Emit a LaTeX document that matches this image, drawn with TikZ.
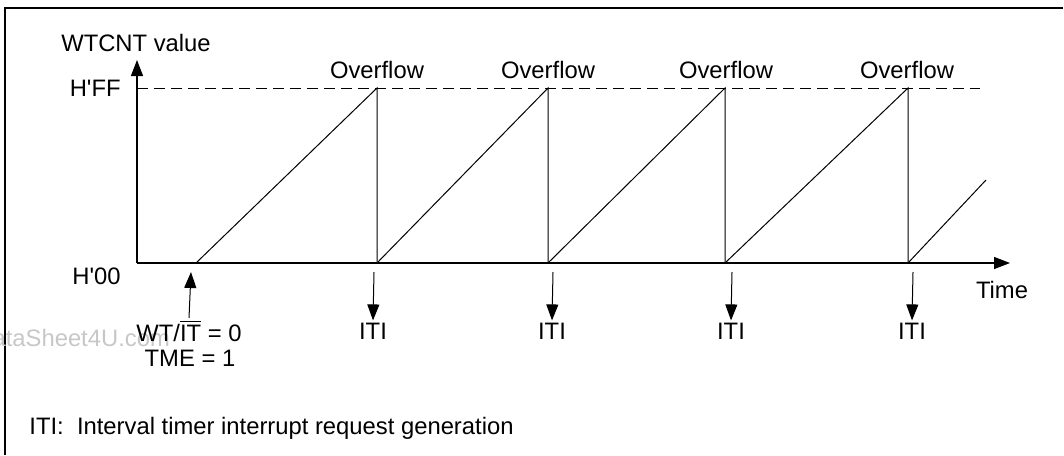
\documentclass[tikz,border=0pt]{standalone}
\usepackage{amsmath}
\usepackage{fontspec}
\setmainfont{Liberation Sans}
\usetikzlibrary{arrows.meta}

\begin{document}
\begin{tikzpicture}[x=0.5pt, y=-0.5pt,
        every node/.style={font=\fontsize{11.9}{14}\selectfont, inner sep=1pt},
        axis/.style={line width=0.65pt, -{Triangle[length=8pt, width=6pt]}},
        saw/.style={line width=0.5pt},
        pointer/.style={line width=0.5pt, -{Triangle[length=8pt, width=6pt]}}]
                \useasboundingbox (0,0) rectangle (1064,455);

                % frame (top and left only)
                \draw[line width=0.9pt] (1063,8) -- (5,8) -- (5,455);

                % watermark
                \node[anchor=west, text=black!22] (mark) at (-27,338) {DataSheet4U.com};

                % axes
                \coordinate (o) at (137,263);
                \coordinate (ytop) at (137,60);
                \coordinate (xend) at (1010,263);
                \draw[axis] (o) -- (ytop);
                \draw[axis] (o) -- (xend);
                \draw[line width=0.5pt, dash pattern=on 5.5pt off 3pt] (137,88) -- (980,88);

                \node (ylabel) at (136,43) {WTCNT value};
                \node[anchor=east] (hff) at (123,88) {H\textquotesingle FF};
                \node[anchor=east] (hzero) at (123,276) {H\textquotesingle 00};
                \node (time) at (1002,290) {Time};

                % counter
                \foreach \a/\b in {196/377, 377/548, 548/725, 725/908} {
                    \draw[saw] (\a,263) -- (\b,88) -- (\b,263);
                }
                \draw[saw] (908,263) -- (986,180);

                \foreach \n/\x in {1/377, 2/548, 3/726, 4/907} {
                    \node (ovf\n) at (\x,70) {Overflow};
                }

                % interrupt requests
                \foreach \n/\x in {1/374, 2/553, 3/732, 4/913} {
                    \coordinate (req\n) at (\x,272);
                    \node (iti\n) at (\x-1,331) {ITI};
                    \draw[pointer] (req\n) -- (iti\n.north);
                }

                % start condition
                \node (wtit) at (189,331) {WT/$\overline{\hbox{IT}}$ = 0};
                \node (tme) at (190,358) {TME = 1};
                \coordinate (start) at (191,272);
                \draw[pointer] (wtit.north) -- (start);

                \node[anchor=west] (note) at (27,428) {ITI:\ \ Interval timer interrupt request generation};
\end{tikzpicture}
\end{document}
